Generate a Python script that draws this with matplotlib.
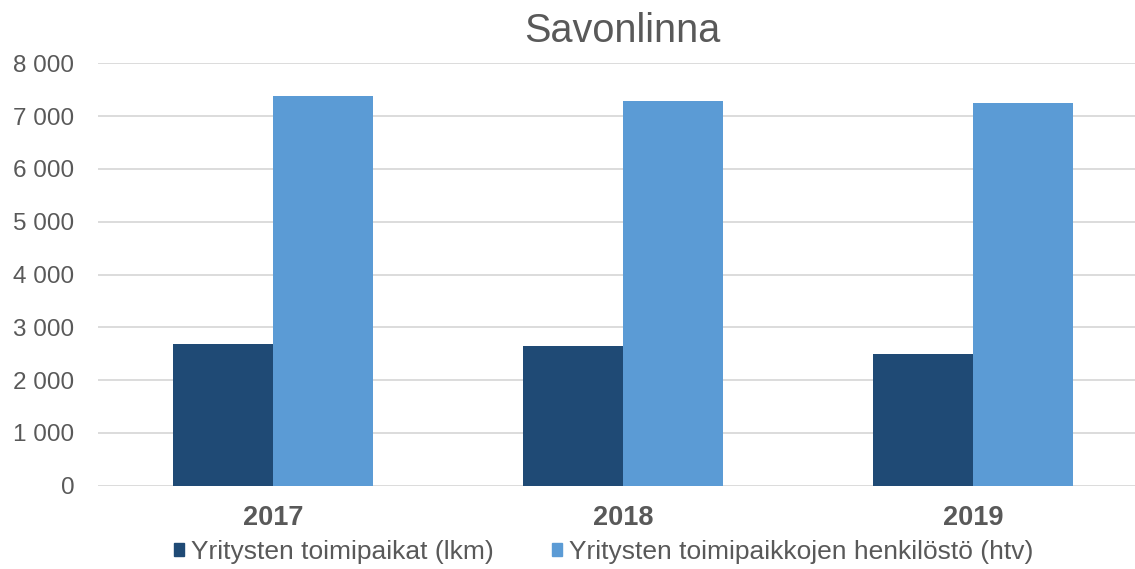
import matplotlib.pyplot as plt
from matplotlib.patches import Patch

# data
years = ['2017', '2018', '2019']
toimipaikat = [2680, 2645, 2500]
henkilosto = [7375, 7280, 7245]
labels = ['Yritysten toimipaikat (lkm)', 'Yritysten toimipaikkojen henkilöstö (htv)']

dark = '#1F4A75'
light = '#5B9BD5'
txt = '#595959'

plt.rcParams['font.family'] = ['Liberation Sans', 'DejaVu Sans']

W, H = 1135, 569
fig = plt.figure(figsize=(W / 100, H / 100), dpi=100)
# plot area goes past the right edge, like the cropped original
ax = fig.add_axes([98 / W, (H - 485.7) / H, 1050 / W, 422.4 / H])

x = list(range(len(years)))
w = 100 / 350
ax.bar([i - w / 2 for i in x], toimipaikat, w, color=dark, zorder=3)
ax.bar([i + w / 2 for i in x], henkilosto, w, color=light, zorder=3)

ax.set_xlim(-0.5, 2.5)
ax.set_ylim(0, 8000)
ax.set_yticks(range(0, 8001, 1000))
ax.set_yticklabels([f'{v:,}'.replace(',', ' ') for v in range(0, 8001, 1000)])
ax.set_xticks(x)
ax.set_xticklabels(years, fontweight='bold')
ax.yaxis.grid(True, color='#D9D9D9', linewidth=1.3, zorder=0)
ax.set_axisbelow(True)
for s in ax.spines.values():
    s.set_visible(False)
ax.tick_params(axis='y', length=0, pad=17, labelsize=17.5, labelcolor=txt)
ax.tick_params(axis='x', length=0, pad=14, labelsize=19.5, labelcolor=txt)

fig.text(622 / W, 1 - 31 / H, 'Savonlinna', ha='center', va='center',
         fontsize=28.5, color=txt)

handles = [Patch(color=dark), Patch(color=light)]
fig.legend(handles, labels, loc='center', bbox_to_anchor=(603.5 / W, 1 - 552 / H),
           ncol=2, frameon=False, fontsize=19, labelcolor=txt,
           handlelength=0.4, handleheight=0.4, handletextpad=0.25,
           columnspacing=2.2, borderpad=0)

fig.savefig('out.png', dpi=100)
